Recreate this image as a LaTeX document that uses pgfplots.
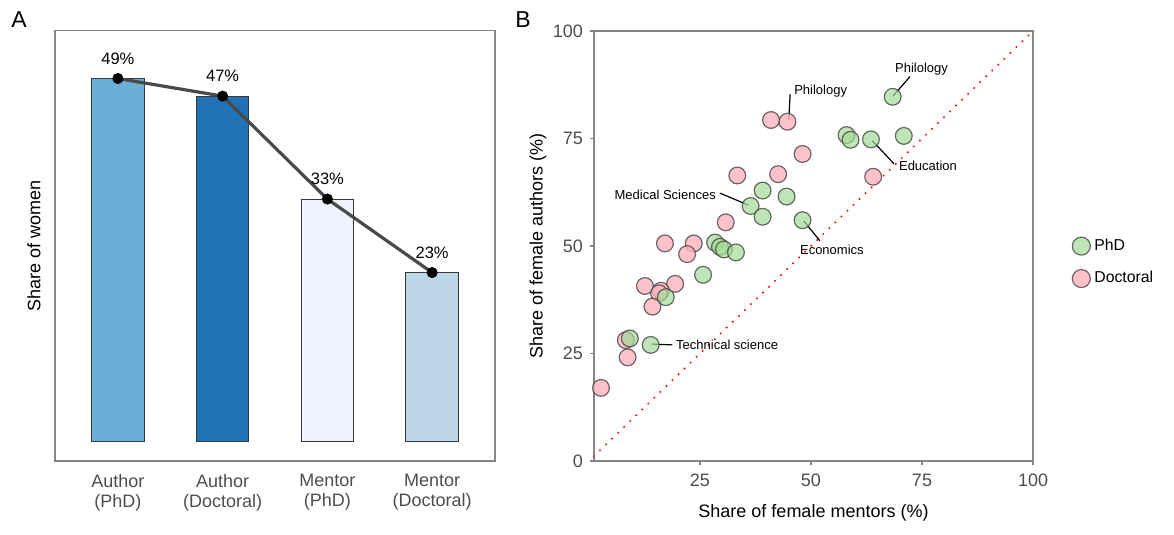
\documentclass[border=0pt]{standalone}
\usepackage{pgfplots}
\pgfplotsset{compat=1.18}
\usepackage{pgfplotstable}
\usepackage{fontspec}
\setmainfont{Liberation Sans}

\definecolor{b1}{HTML}{6BAED6}
\definecolor{b2}{HTML}{2171B5}
\definecolor{b3}{HTML}{EFF3FF}
\definecolor{b4}{HTML}{BDD7E7}
\definecolor{framegray}{HTML}{858585}
\definecolor{ticktext}{HTML}{4D4D4D}
\definecolor{linegray}{HTML}{4A4A4A}
\definecolor{phdgreen}{HTML}{A3DA95}
\definecolor{docpink}{HTML}{FFB3BE}
\definecolor{edge}{HTML}{3A3A3A}

\pgfplotstableread{
x y lab
1 49.4 49
2 47.0 47
3 33.0 33
4 23.0 23
}\meansdata

\pgfplotstableread{
x y
68.4 84.7
58.0 75.8
58.9 74.7
63.5 74.8
70.9 75.6
39.1 62.9
44.5 61.5
36.4 59.3
39.1 56.8
48.1 56.0
28.4 50.8
29.5 49.8
30.4 49.2
33.1 48.5
25.7 43.3
17.3 38.1
9.2 28.5
13.9 27.0
}\phddata

\pgfplotstableread{
x y
41.0 79.3
44.7 78.9
48.1 71.4
64.0 66.1
33.4 66.4
42.6 66.7
30.8 55.5
17.1 50.6
23.6 50.6
22.1 48.1
12.6 40.7
19.4 41.2
16.2 39.6
15.8 39.0
14.3 35.9
8.3 28.1
8.7 24.1
2.7 17.0
}\docdata

\begin{document}
\begin{tikzpicture}
\useasboundingbox (0,0) rectangle (587pt,267.5pt);
% Panel A
\begin{axis}[
  at={(27.5pt,37pt)}, anchor=south west, scale only axis,
  width=220pt, height=215.15pt,
  xmin=0.4, xmax=4.6, ymin=-2.63, ymax=55.9,
  axis line style={framegray, line width=0.6pt},
  xtick={1,2,3,4},
  xticklabels={{Author\\(PhD)},{Author\\(Doctoral)},{Mentor\\(PhD)},{Mentor\\(Doctoral)}},
  ytick=\empty, major tick length=0pt,
  xticklabel style={align=center, font=\fontsize{9}{10}\selectfont, text=ticktext, yshift=-3pt},
  ylabel={Share of women},
  ylabel style={at={(axis description cs:-0.048,0.5)}, anchor=center, font=\fontsize{9}{10}\selectfont},
  /pgf/number format/assume math mode=true,
  clip=false
]
\addplot[ybar, bar width=0.5, bar shift=0, fill=b1, draw=edge, line width=0.5pt] coordinates {(1,49.4)};
\addplot[ybar, bar width=0.5, bar shift=0, fill=b2, draw=edge, line width=0.5pt] coordinates {(2,47.0)};
\addplot[ybar, bar width=0.5, bar shift=0, fill=b3, draw=edge, line width=0.5pt] coordinates {(3,33.0)};
\addplot[ybar, bar width=0.5, bar shift=0, fill=b4, draw=edge, line width=0.5pt] coordinates {(4,23.0)};
\addplot[linegray, line width=1.6pt, mark=*, mark size=2.6pt,
  mark options={solid, fill=black, draw=black, line width=0.3pt},
  point meta=explicit,
  nodes near coords={\pgfmathprintnumber[assume math mode=true]{\pgfplotspointmeta}\%},
  every node near coord/.append style={font=\fontsize{8.25}{9}\selectfont, text=black, anchor=center, yshift=10pt}
] table[x=x, y=y, meta=lab] {\meansdata};
\end{axis}

% Panel B
\begin{axis}[
  at={(297pt,37pt)}, anchor=south west, scale only axis,
  width=219.5pt, height=215pt,
  xmin=1.13, xmax=100, ymin=0, ymax=100,
  xtick={25,50,75,100}, ytick={0,25,50,75,100},
  xtick pos=left, ytick pos=left,
  tick align=outside, major tick length=2pt,
  tick style={framegray, line width=0.6pt},
  axis line style={framegray, line width=0.6pt},
  ticklabel style={font=\fontsize{9}{10}\selectfont, text=ticktext},
  xticklabel style={yshift=-1pt},
  /pgf/number format/assume math mode=true,
  xlabel={Share of female mentors (\%)},
  ylabel={Share of female authors (\%)},
  xlabel style={at={(axis description cs:0.5,-0.121)}, anchor=center, font=\fontsize{9}{10}\selectfont},
  ylabel style={at={(axis description cs:-0.1276,0.5)}, anchor=center, font=\fontsize{9}{10}\selectfont},
  legend style={draw=none, fill=none, at={(axis description cs:1.075,0.462)}, anchor=west,
    font=\fontsize{7.9}{9}\selectfont, row sep=5pt},
  legend cell align=left,
  reverse legend,
  legend image post style={mark size=4.5pt},
  clip=false
]
\addplot[red, line width=1.1pt, line cap=round, dash pattern=on 0pt off 4.2pt, forget plot] coordinates {(1.13,1.13) (100,100)};
\addplot[only marks, mark=*, mark size=4.2pt,
  mark options={fill=docpink, fill opacity=0.8, draw=edge, draw opacity=0.75, line width=0.6pt}] table[x=x,y=y] {\docdata};
\addlegendentry{Doctoral}
\addplot[only marks, mark=*, mark size=4.2pt,
  mark options={fill=phdgreen, fill opacity=0.7, draw=edge, draw opacity=0.75, line width=0.6pt}] table[x=x,y=y] {\phddata};
\addlegendentry{PhD}

\draw[black, line width=0.6pt] (axis cs:45.0,79.3) -- (axis cs:45.3,85.3);
\node[anchor=west, inner sep=1pt, font=\fontsize{6.5}{7}\selectfont] at (axis cs:45.7,85.9) {Philology};
\draw[black, line width=0.6pt] (axis cs:68.5,84.9) -- (axis cs:72.3,89.4);
\node[anchor=center, inner sep=1pt, font=\fontsize{6.5}{7}\selectfont] at (axis cs:74.9,91.2) {Philology};
\draw[black, line width=0.6pt] (axis cs:63.8,74.5) -- (axis cs:68.7,69.1);
\node[anchor=west, inner sep=1pt, font=\fontsize{6.5}{7}\selectfont] at (axis cs:69.3,68.6) {Education};
\draw[black, line width=0.6pt] (axis cs:35.9,59.5) -- (axis cs:29.5,62.3);
\node[anchor=east, inner sep=1pt, font=\fontsize{6.5}{7}\selectfont] at (axis cs:29.1,62.0) {Medical Sciences};
\draw[black, line width=0.6pt] (axis cs:48.4,55.8) -- (axis cs:52.0,51.2);
\node[anchor=center, inner sep=1pt, font=\fontsize{6.5}{7}\selectfont] at (axis cs:54.7,49.1) {Economics};
\draw[black, line width=0.6pt] (axis cs:14.1,27.2) -- (axis cs:18.8,27.0);
\node[anchor=west, inner sep=1pt, font=\fontsize{6.5}{7}\selectfont] at (axis cs:19.1,26.9) {Technical science};
\end{axis}

\node[font=\fontsize{11.5}{12}\selectfont] at (9.5pt,257.5pt) {A};
\node[font=\fontsize{11.5}{12}\selectfont] at (261.5pt,257.75pt) {B};
\end{tikzpicture}
\end{document}
